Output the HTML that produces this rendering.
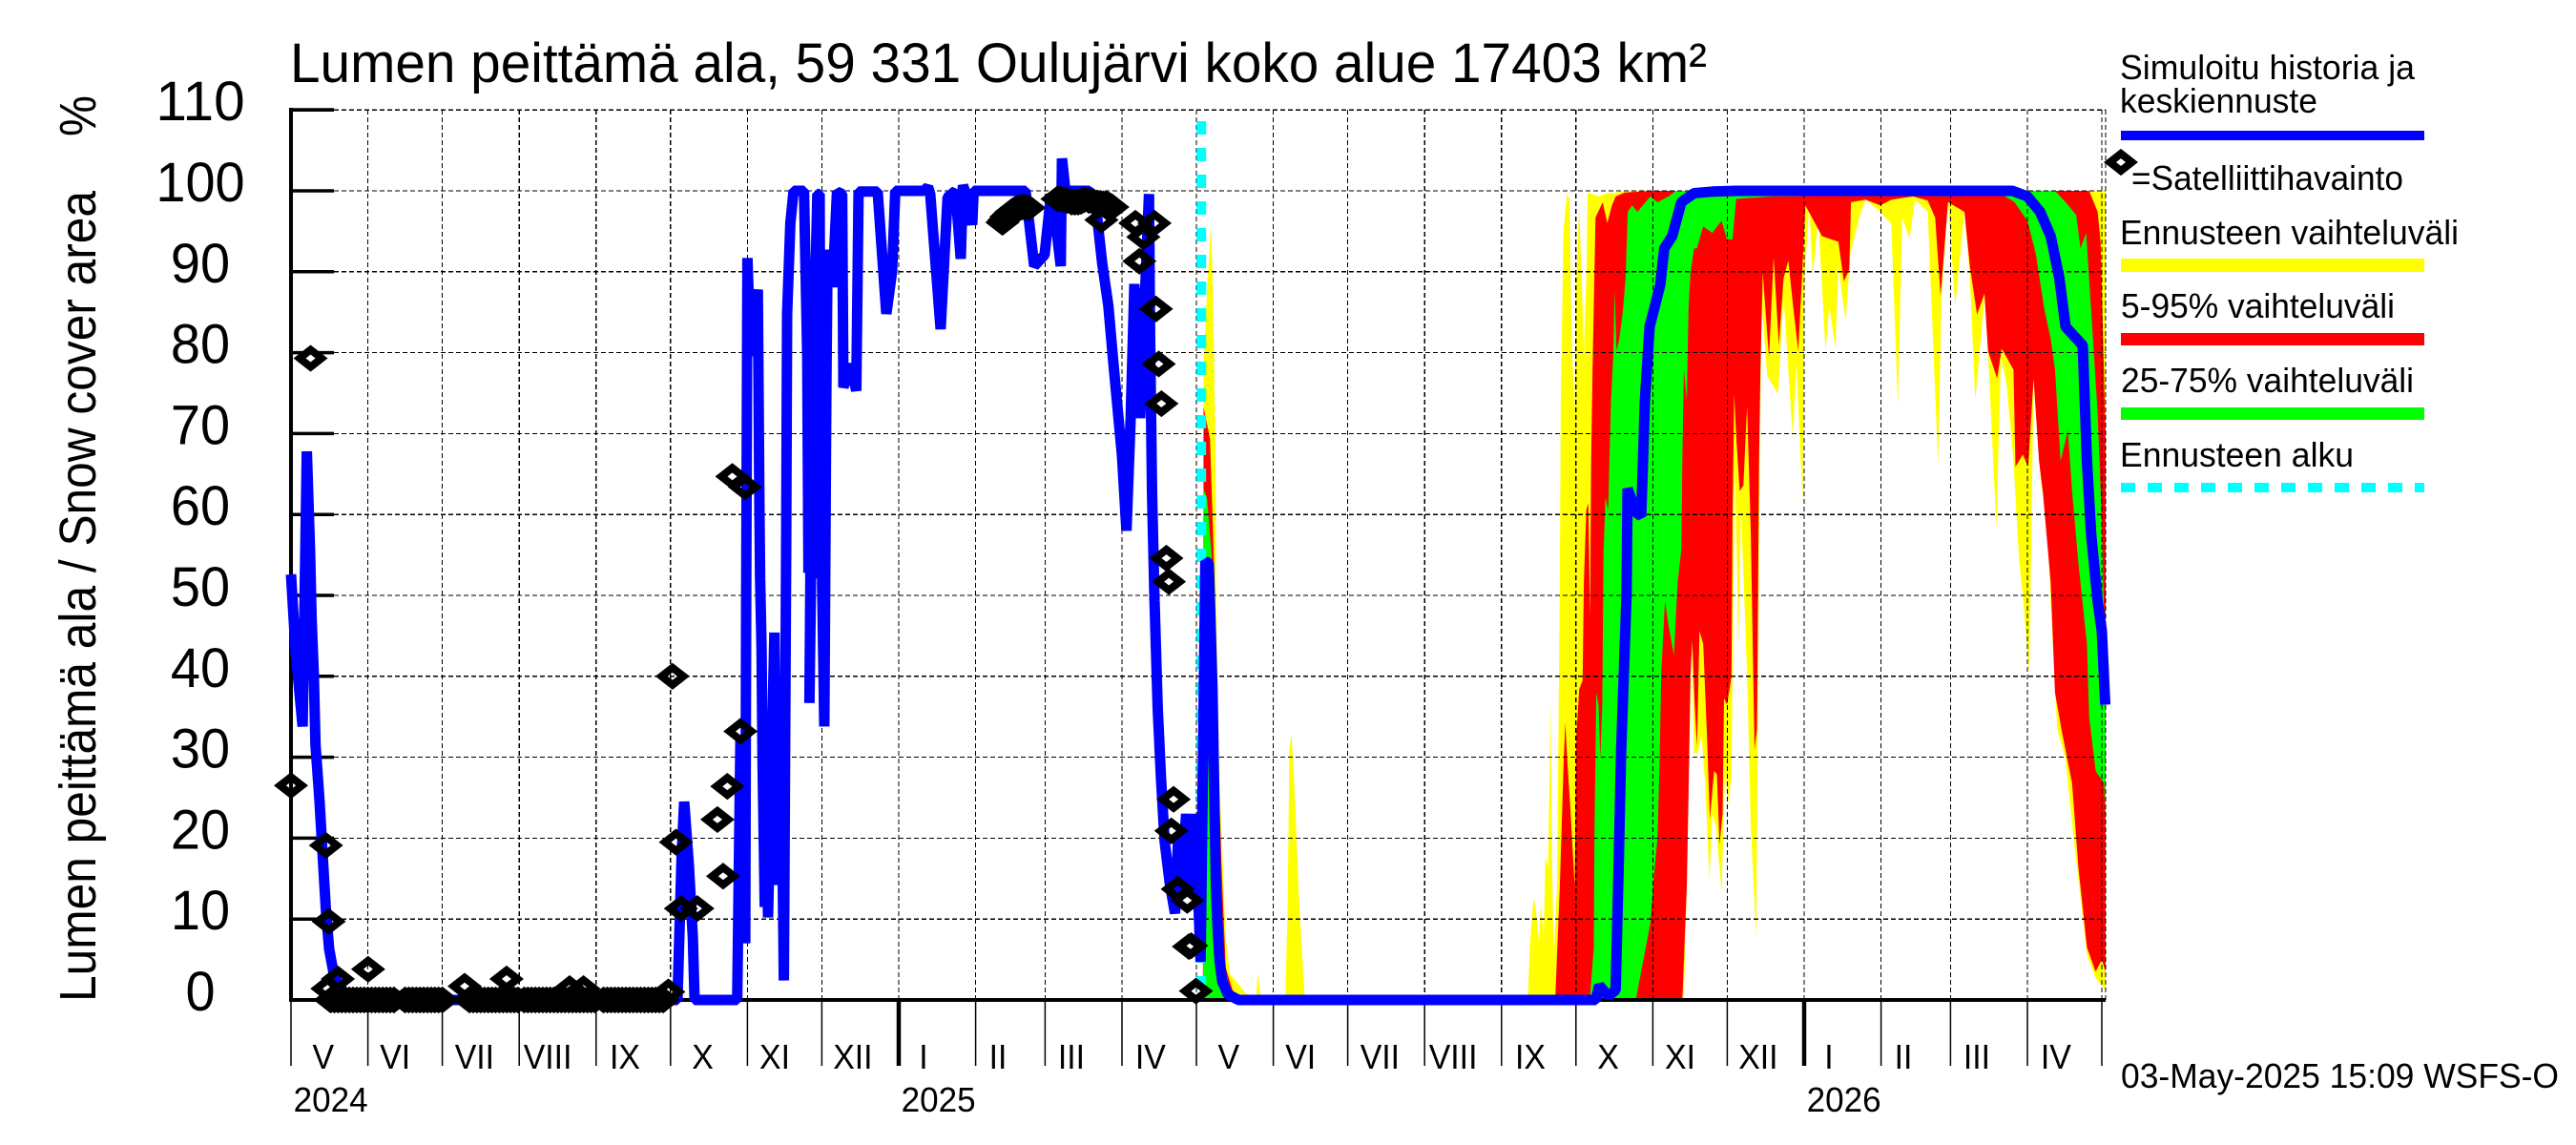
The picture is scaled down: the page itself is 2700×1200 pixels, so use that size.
<!DOCTYPE html>
<html lang="fi">
<head>
<meta charset="utf-8">
<title>Lumen peittämä ala</title>
<style>
html,body{margin:0;padding:0;background:#fff;width:2700px;height:1200px;overflow:hidden}
svg{display:block}
text{font-family:"Liberation Sans",Arial,sans-serif;fill:#000}
</style>
</head>
<body>
<svg id="chart" xmlns="http://www.w3.org/2000/svg" width="2700" height="1200" viewBox="0 0 2700 1200">
<rect x="0" y="0" width="2700" height="1200" fill="#fff"/>
<text x="304" y="86" font-size="58" textLength="1485" lengthAdjust="spacingAndGlyphs">Lumen peittämä ala, 59 331 Oulujärvi koko alue 17403 km²</text>
<text transform="translate(100,1050) rotate(-90)" font-size="54" textLength="850" lengthAdjust="spacingAndGlyphs">Lumen peittämä ala / Snow cover area</text>
<text transform="translate(100,143) rotate(-90)" font-size="54" textLength="43" lengthAdjust="spacingAndGlyphs">%</text>
<g id="bands"></g>
<g id="grid"></g>
<g id="axes"></g>
<g id="series"></g>
<g id="legend">
  <text x="2222" y="83" font-size="36" textLength="309" lengthAdjust="spacingAndGlyphs">Simuloitu historia ja</text>
  <text x="2222" y="118" font-size="36" textLength="207" lengthAdjust="spacingAndGlyphs">keskiennuste</text>
  <rect x="2223" y="137" width="318" height="10" fill="#0000ff"/>
  <polygon points="2211.5,170 2223,161 2234.5,170 2223,179" fill="none" stroke="#000" stroke-width="8"/>
  <text x="2234" y="199" font-size="36" textLength="285" lengthAdjust="spacingAndGlyphs">=Satelliittihavainto</text>
  <text x="2222" y="256" font-size="36" textLength="355" lengthAdjust="spacingAndGlyphs">Ennusteen vaihteluväli</text>
  <rect x="2223" y="271" width="318" height="14" fill="#ffff00"/>
  <text x="2223" y="333" font-size="36" textLength="287" lengthAdjust="spacingAndGlyphs">5-95% vaihteluväli</text>
  <rect x="2223" y="349" width="318" height="13" fill="#ff0000"/>
  <text x="2223" y="411" font-size="36" textLength="307" lengthAdjust="spacingAndGlyphs">25-75% vaihteluväli</text>
  <rect x="2223" y="427" width="318" height="13" fill="#00ff00"/>
  <text x="2222" y="489" font-size="36" textLength="245" lengthAdjust="spacingAndGlyphs">Ennusteen alku</text>
  <line x1="2223" y1="511" x2="2541" y2="511" stroke="#00ffff" stroke-width="10" stroke-dasharray="15 13"/>
</g>
<text x="2223" y="1140" font-size="36" textLength="459" lengthAdjust="spacingAndGlyphs">03-May-2025 15:09 WSFS-O</text>
</svg>
<script>
// Day numbers count from 1 May 2024. Values are percent of snow-covered area.
const yTickValues=[0,10,20,30,40,50,60,70,80,90,100,110];
const monthStartDays=[0,31,61,92,123,153,184,214,245,276,304,335,365,396,426,457,488,518,549,579,610,641,669,700,730];
const yearStartDays=[245,610];
const yearLabelDays=[1,246,611];
const yearLabels=['2024','2025','2026'];
const monthLabels=['V','VI','VII','VIII','IX','X','XI','XII','I','II','III','IV','V','VI','VII','VIII','IX','X','XI','XII','I','II','III','IV'];
const monthLabelDays=[13,42,74,103.5,134.6,166,195,226.5,255,285,314.6,346.5,378,407,439,468.5,499.6,531,560,591.5,620,650,679.6,711.5];
const forecastStartDay=367;

const yellowUpperDays=[367.7,367.9,369.3,370.9,371.5,372.7,373,374.2,375.1,376.8,378.5,381.1,384.6,387.1,389.2,389.7,390.9,400.9,401.8,402.5,403.4,404.6,406.4,408.6,498.7,499.4,500.9,501.6,503.1,503.8,505,505.7,506.8,507.8,508.2,509,510.4,511.5,511.9,513,514.4,515.3,516.3,517.4,518.2,519.3,520.3,521.2,522.2,522.7,527.4,530.3,533.9,537.7,731.5];
const yellowUpperPct=[0,78,88,96,90,68.6,49.4,27.5,21,7.7,3.2,2.3,0.9,0.5,0.5,3.4,0.4,0.4,12,31,33,25.7,12.2,0.4,0.4,6.5,12.5,11.7,7.2,11.7,8,17.7,16.2,36.9,21.5,5,14,51.6,74,95.2,99.7,99,81.7,72.6,89.2,98.2,89.2,80.2,89.2,99.8,99.3,99.7,99.7,100,100];
const yellowLowerDays=[367.7,561.5,562.7,563.4,564.6,565.6,567.1,568.6,570.1,571.8,573,574.5,576.7,578.2,579.2,580.7,581.4,582.1,583.6,584.5,587,588.5,590.7,591.4,592.1,592.9,595.1,599.5,601.7,605.4,606.9,609.4,610.2,612,613.5,615.7,618.6,620.1,622.6,623.8,626.7,628.6,632.6,634.8,640.7,645.1,647.8,649.5,652.5,654.7,659.8,664,665.4,668,670.9,674.6,676.8,679,682.7,684.1,687.5,689.3,691.5,694.4,696.6,698.1,700.8,702.5,705.5,707.7,709.6,712,715.4,718,720.6,724,727.5,731.5];
const yellowLowerPct=[0,0,14,25.3,44.4,30.5,30.5,32.8,26.8,14.7,23,21.5,13.2,29,24.1,27.5,47.8,65.9,44,60.6,40.3,21.5,7.6,36.5,68.1,86.2,77.1,74.9,86.9,69.6,78.6,61.4,89.2,98.2,89.5,96.7,80.2,85.8,80.5,90.7,83.9,92.2,97.1,98.9,97.4,95.9,73.4,96.7,94.1,98.9,97.4,66.2,86.9,98.6,85.8,97.4,89.2,74.1,86.9,80.2,58.3,79.4,76.4,66.6,54.6,50.1,40.3,76.4,63.6,60.6,47.8,33.5,29.8,21.9,14.7,5.7,2.7,1.2];

const redUpperDays=[367.6,367.9,370.5,371.9,372.4,373.5,375.1,376.8,379.4,381,509.7,511.5,513,513.7,514.6,515.9,517.5,518.2,519.3,520.7,521.2,522.2,523,523.7,524.1,524.7,525.9,528.8,530.6,532.5,534,537.7,548,724.9,728.3,729.5,731.5];
const redUpperPct=[0,73.3,69.3,56,50,32,16.7,4,1.4,0.4,0.4,14,29,34.3,29,23,14,32.8,38.4,39.5,51.6,60.6,61.4,47,66.6,77.9,96.7,98.6,96,98.2,99.3,99.8,100,100,97.4,93.7,70];
const redLowerDays=[367.6,560.9,562.7,563.4,564.2,564.9,565.9,566.8,567.8,569.3,570.8,572,573.7,574.8,575.9,577.1,577.7,578.9,580.7,581.1,581.8,582.6,584,585.5,587,588.5,590,591,591.8,592.4,593.3,595.8,597.7,599.8,601.7,603.6,605.4,607.6,609.1,610.5,617.2,623.8,626,628.2,628.9,634.8,640.7,645.1,654,659.8,662.8,665,668,674.6,676.8,679.7,682.7,684.1,687.8,689.6,694.4,695.2,698.1,700.3,702.5,704.7,706.2,709.4,711.1,713.7,718,720.6,724,727.5,730,731.5];
const redLowerPct=[0,0,14,25.3,40.3,44.4,36.5,31.3,45.6,44,32.8,22.3,28.3,27.9,19.2,23,37.3,36.5,39.9,59.1,74.9,69.6,62.9,63.6,73.4,57.6,30.9,33.5,66.6,77.9,89.9,79.4,91.8,80.9,89.2,91.4,86.2,80.2,89.2,98.2,94.4,93.7,88.8,90.3,98.6,98.9,98.2,98.9,99.3,98.8,96.7,87,98.6,97.4,90.7,84.7,87.3,80.2,76.8,80.5,77.9,65.9,67.4,65.9,76.8,66.6,62.9,51.6,38,33.5,26.8,16.2,6.5,3.5,5,3.5];

const greenUpperDays=[367.7,367.8,369.3,371.2,372.5,374,376,378.5,380,523.7,525.2,525.5,526.2,527.1,527.8,528.6,529.1,529.9,531,532.1,533,533.6,534.4,535.5,537,538,538.9,540.6,542.8,548,550.9,555.3,558.3,711.1,715.4,719.7,721.4,723.7,726.1,728.3,730,731.5];
const greenUpperPct=[0,63.3,62,54.7,30,10,2,0.3,0,0.4,6.5,21.5,38,36.5,29.8,36.5,55.3,62.1,60.6,74.1,79.4,87.7,80.2,81.7,85.4,89.2,97.4,98.2,97.4,99.3,98.6,99.3,100,100,98.6,97,92.9,94.8,83.2,72.6,59,40];
const greenLowerDays=[367.7,542.1,544.3,548,549.5,550.9,551.7,552.4,553.9,555.3,557.5,559,560.5,560.9,561.5,562.7,563.4,564.2,565.6,566.8,569.3,573,576.7,578.9,581.1,582.6,596.6,690,694.8,700,703.4,706.8,709.4,711.1,713.4,716.3,718,720.6,724,724.9,727.5,730.9,731.5];
const greenLowerPct=[0,0,3.5,9.5,15.5,20,29,40.3,49.3,46.3,42.6,51.6,55.7,66.6,77.9,74.1,85.4,89.9,92.9,92.9,95.6,94.8,96.3,94,94,99,99.3,99.5,98.6,96.3,92.2,85.4,81.7,77.9,66.6,70.4,62.9,53.8,44,35,28.3,26.8,22];

const medianDays=[0,1.9,4.7,6.4,7.7,8.3,9.2,9.9,11.5,12.8,14.1,15.4,17.3,19.9,23.7,27,155.8,157.5,158.5,160.4,162,162.7,179.9,181.2,183.1,183.5,184,185.3,188.2,188.5,188.8,189.1,189.7,190.1,191,191.4,192.3,194.9,196.2,197.4,198.7,199.6,200,201.3,202.6,206.8,208.1,208.6,209.9,209.4,209,210.9,212.2,213.1,213.5,215,214.1,215,215.8,216.3,218.3,220.1,222.2,222.7,225.3,227.9,228.8,236.5,240,242.3,243.6,251.9,255.1,256.8,257.7,261.9,264.7,267.9,270,270.9,273,274.6,275.2,296.1,299.6,303.8,306.4,308.3,310.3,310.8,312.2,321.8,324.4,327,329.5,331.4,333.4,335,336.8,338.5,340,340,342.3,342.3,345.9,346.3,347.1,348.1,349.4,350.7,352.2,354.3,356.4,357.7,358.6,360.9,360,362,361.5,363.5,362.9,364.5,366.7,368.6,370,371.5,372.3,372.9,373.6,374.3,375.4,377.7,382,526,527.4,531,534,535.2,536.2,538.4,538.8,542.4,544.3,545.8,547.7,552,553.6,556.8,560.5,565.6,573,582.6,694,700,705.1,709.4,712.9,715.4,722.3,724,725.7,728.3,730,731.4];
const medianPct=[52.6,43,33.8,67.8,55.4,47.1,40.2,31.5,24.6,17.7,10.9,6.3,3.1,1.5,0.3,0,0,18,24.5,16.7,7.7,0,0,32.5,7,48.9,91.7,79.6,87.8,75,61.9,52.1,43.6,29.2,11.5,35.1,10.2,45.4,14.2,38.7,2.4,55.4,84.8,96,100,100,79.6,52.8,79,52.4,36.7,81.6,99.6,99.6,52.1,79,51.5,33.8,75,92.7,88.1,99.9,99.6,75.7,78.6,75.3,99.9,99.9,84.8,90,100,100,100,100.5,99.6,82.9,99.2,100,91.6,100.7,98.8,95.8,100,100,90.7,92.1,99.6,96,90.7,104,100,100,98.4,91.1,85.8,79.2,72.6,67.3,58,72,88.5,72,88,71.9,99.6,82.5,62.7,49.4,36.2,27.6,19.6,14.3,10.7,20.3,13.7,23,13,23,13,23,13,23,4.7,54.2,54,38,23.4,14,8.5,5,2.3,0.7,0,0,1.8,0.5,1.2,16.2,30.5,50,63.2,60.2,59.8,74.1,83.2,88.4,92.9,94.4,98.6,99.7,99.9,100,100,99.3,97.4,94.4,89.2,83.2,80.9,66.6,57.6,49.3,45.6,36.5];

const satelliteDays=[0,14.1,15.2,14.7,18.9,31.1,70,86.9,112.3,117.9,152.1,153.8,155.2,157.2,163.8,181.2,175.9,171.9,174.2,7.9,177.9,183,
286.8,288.4,290.4,292.3,294.8,297.4,309,311.5,314.7,317.3,319.8,323.7,326.3,328.8,331.1,326.7,340.4,348.1,343.6,342,348.7,349.8,350.9,352.9,353.9,355.8,354.9,357.5,361.3,362.9,362,364.8,
287.6,289.4,291.3,293.5,296,310.2,313,316,318.5,321.7,325,327.5,330];
const satellitePct=[26.5,19.1,9.7,1.4,2.6,3.8,1.7,2.6,1.4,1.4,1,40,19.5,11.3,11.3,33.2,26.4,22.3,15.3,79.3,64.7,63.4,
96.1,96.8,97.4,97.8,98,97.9,99,98.9,98.6,98.6,98.9,98.6,98.4,98.4,98,96.4,96,96,94.3,91.3,85.4,78.6,73.7,54.6,51.7,24.8,20.9,13.7,12.3,6.7,6.6,1.1,
96.4,97.1,97.6,97.9,98,99,98.8,98.6,98.7,98.8,98.5,98.4,98.2];
const snowFreeSatelliteDays=[16,17.5,19,20.5,22,23.5,25,26.5,28,29.5,
31,32.5,34,35.5,37,38.5,40,41.5,46,47.5,
49,50.5,52,53.5,55,56.5,58,59.5,61,72,
73.5,75,76.5,78,79.5,81,82.5,84,85.5,87,
88.5,90,91.5,94,95.5,97,98.5,100,101.5,103,
104.5,106,107.5,109,110.5,112,113.5,115,116.5,118,
119.5,121,122.5,126,127.5,129,130.5,132,133.5,135,
136.5,138,139.5,141,142.5,144,145.5,147,148.5,150];
const snowFreeSatellitePct=[0,0,0,0,0,0,0,0,0,0,
0,0,0,0,0,0,0,0,0,0,
0,0,0,0,0,0,0,0,0,0,
0,0,0,0,0,0,0,0,0,0,
0,0,0,0,0,0,0,0,0,0,
0,0,0,0,0,0,0,0,0,0,
0,0,0,0,0,0,0,0,0,0,
0,0,0,0,0,0,0,0,0,0];

const SVG_NS='http://www.w3.org/2000/svg';
function xScale(day){return 305+day*2.6;}
function yScale(pct){return 1048-pct*8.48;}
function make(tag,attrs,parent){
  const el=document.createElementNS(SVG_NS,tag);
  for(const k in attrs){el.setAttribute(k,attrs[k]);}
  parent.appendChild(el);
  return el;
}
function bandPoints(upD,upV,loD,loV){
  const pts=[];
  for(let i=0;i<upD.length;i++){pts.push(xScale(upD[i]).toFixed(1)+','+yScale(upV[i]).toFixed(1));}
  for(let i=loD.length-1;i>=0;i--){pts.push(xScale(loD[i]).toFixed(1)+','+yScale(loV[i]).toFixed(1));}
  return pts.join(' ');
}
const bandsG=document.getElementById('bands');
const gridG=document.getElementById('grid');
const axesG=document.getElementById('axes');
const seriesG=document.getElementById('series');

const yellowBand=make('polygon',{points:bandPoints(yellowUpperDays,yellowUpperPct,yellowLowerDays,yellowLowerPct),fill:'#ffff00'},bandsG);


const redBand=make('polygon',{points:bandPoints(redUpperDays,redUpperPct,redLowerDays,redLowerPct),fill:'#ff0000'},bandsG);


const greenBand=make('polygon',{points:bandPoints(greenUpperDays,greenUpperPct,greenLowerDays,greenLowerPct),fill:'#00ff00'},bandsG);



// horizontal grid lines, y ticks and labels
yTickValues.forEach(function(v){
  const yy=yScale(v);
  if(v>0){
    const g=make('line',{x1:350,x2:2207,y1:yy,y2:yy,stroke:'#000','stroke-width':1.2,'stroke-dasharray':'5 3','shape-rendering':'crispEdges'},gridG);
    
    
    const t=make('line',{x1:305,x2:350,y1:yy,y2:yy,stroke:'#000','stroke-width':3.5},axesG);
    
    
  }
  const lab=make('text',{x:210,y:yy+11,'font-size':58,'text-anchor':'middle',textLength:31.1*String(v).length,lengthAdjust:'spacingAndGlyphs'},axesG);
  lab.textContent=String(v);
  
  
});

// vertical grid lines and month ticks
monthStartDays.forEach(function(d){
  const xx=xScale(d);
  if(d>0){
    const g=make('line',{x1:xx,x2:xx,y1:115,y2:1048,stroke:'#000','stroke-width':1.2,'stroke-dasharray':'5 3','shape-rendering':'crispEdges'},gridG);
    
    
  }
  const t=make('line',{x1:xx,x2:xx,y1:1048,y2:1117,stroke:'#000','stroke-width':1.5},axesG);
  
  
});
yearStartDays.forEach(function(d){
  const t=make('line',{x1:xScale(d),x2:xScale(d),y1:1048,y2:1117,stroke:'#000','stroke-width':4.5},axesG);
  
  
});
monthLabels.forEach(function(m,i){
  const t=make('text',{x:xScale(monthLabelDays[i]),y:1120,'font-size':36,'text-anchor':'middle'},axesG);
  t.textContent=m;
  t.setAttribute('textLength',(t.getComputedTextLength()*0.94).toFixed(1));
  t.setAttribute('lengthAdjust','spacingAndGlyphs');
  
  
});
yearLabels.forEach(function(label,i){
  const t=make('text',{x:xScale(yearLabelDays[i]),y:1165,'font-size':36,textLength:78,lengthAdjust:'spacingAndGlyphs'},axesG);
  t.textContent=label;
  
  
});

const topLine=make('line',{x1:350,x2:2207,y1:115,y2:115,stroke:'#000','stroke-width':1.2,'stroke-dasharray':'5 3','shape-rendering':'crispEdges'},gridG);


const rightLine=make('line',{x1:2207,x2:2207,y1:115,y2:1048,stroke:'#000','stroke-width':1.2,'stroke-dasharray':'5 3','shape-rendering':'crispEdges'},gridG);


const yAxis=make('line',{x1:305,x2:305,y1:113,y2:1050,stroke:'#000','stroke-width':4},axesG);


const topTick=make('line',{x1:305,x2:350,y1:115,y2:115,stroke:'#000','stroke-width':3.5},axesG);


const xAxis=make('line',{x1:305,x2:2207,y1:1048,y2:1048,stroke:'#000','stroke-width':4},axesG);



// forecast start marker
const startLine=make('line',{x1:xScale(forecastStartDay),x2:xScale(forecastStartDay),y1:127,y2:1048,stroke:'#00ffff','stroke-width':10,'stroke-dasharray':'14 14'},seriesG);



// median line
const medianPts=medianDays.map(function(d,i){return xScale(d).toFixed(1)+','+yScale(medianPct[i]).toFixed(1);}).join(' ');
const medianLine=make('polyline',{points:medianPts,fill:'none',stroke:'#0000ff','stroke-width':11,'stroke-linejoin':'bevel','stroke-linecap':'butt'},seriesG);



// satellite observations
function drawObservation(day,pct){
  const cx=xScale(day),cy=yScale(pct);
  const pts=(cx-11.5)+','+cy+' '+cx+','+(cy-9)+' '+(cx+11.5)+','+cy+' '+cx+','+(cy+9);
  const p=make('polygon',{points:pts,fill:'none',stroke:'#000','stroke-width':8},seriesG);
  
  
}
snowFreeSatelliteDays.forEach(function(d,i){drawObservation(d,snowFreeSatellitePct[i]);});
satelliteDays.forEach(function(d,i){drawObservation(d,satellitePct[i]);});
</script>
</body>
</html>
